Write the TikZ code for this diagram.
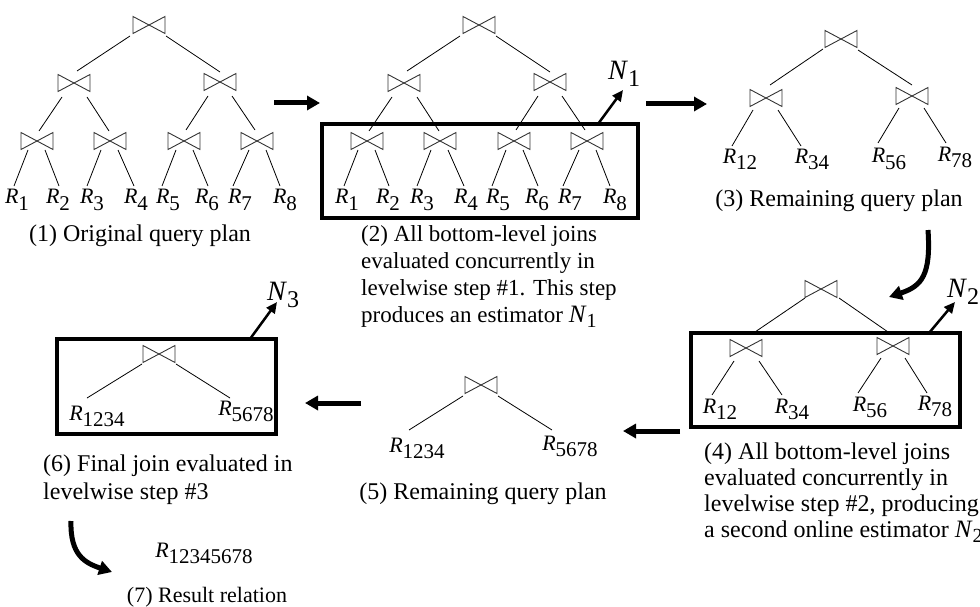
\documentclass[tikz,border=0pt]{standalone}
\usepackage{fontspec}
\setmainfont{Liberation Serif}
\usetikzlibrary{arrows.meta,calc}

% relation and estimator labels: italic letter, lowered index
\newcommand\Rel[1]{\textit{R}\raisebox{-6pt}{\fontsize{21}{21}\selectfont #1}}
\newcommand\Est[1]{\textit{N}\raisebox{-7pt}{\fontsize{24}{24}\selectfont #1}}
\newcommand\EstTxt[1]{{\fontsize{25}{25}\selectfont\textit{N}}\raisebox{-5pt}{\fontsize{20}{20}\selectfont #1}}

% full eight-relation join tree (used twice)
\newcommand\fulltree{%
  \node[jn] (t)  at (149,25)  {};
  \node[jn] (l)  at (74,83)   {};
  \node[jn] (r)  at (220,82)  {};
  \node[jn] (b1) at (37,141)  {};
  \node[jn] (b2) at (110,141) {};
  \node[jn] (b3) at (184,141) {};
  \node[jn] (b4) at (257,141) {};
  \foreach \j in {t,l,r,b1,b2,b3,b4}
    \draw[jnline] (\j.north west) -- (\j.south east) -- (\j.north east) -- (\j.south west) -- cycle;
  \node[leaf] (x1) at (17,204)  {\Rel{1}};
  \node[leaf] (x2) at (58,204)  {\Rel{2}};
  \node[leaf] (x3) at (92,204)  {\Rel{3}};
  \node[leaf] (x4) at (136,204) {\Rel{4}};
  \node[leaf] (x5) at (168,204) {\Rel{5}};
  \node[leaf] (x6) at (207,204) {\Rel{6}};
  \node[leaf] (x7) at (240,204) {\Rel{7}};
  \node[leaf] (x8) at (285,204) {\Rel{8}};
  \draw[edge] ($(t)+(-19,11)$) -- ($(l)+(3,-12)$);
  \draw[edge] ($(t)+(17,11)$)  -- ($(r)+(0,-10)$);
  \draw[edge] ($(l)+(-12,14)$) -- ($(b1)+(2,-10)$);
  \draw[edge] ($(l)+(13,14)$)  -- ($(b2)+(-1,-10)$);
  \draw[edge] ($(r)+(-12,14)$) -- ($(b3)+(2,-11)$);
  \draw[edge] ($(r)+(12,14)$)  -- ($(b4)+(-2,-11)$);
  \foreach \p/\c/\s/\e in {b1/x1/-9/-3, b1/x2/8/1, b2/x3/-9/-5, b2/x4/8/-2,
                           b3/x5/-8/-6, b3/x6/9/1, b4/x7/-8/-7, b4/x8/9/-5}
    \draw[edge] ($(\p)+(\s,9)$) -- ($(\c.base)+(\e,-18)$);
}

\begin{document}
\begin{tikzpicture}[x=1pt,y=-1pt,
  jn/.style={minimum width=32pt,minimum height=17pt,inner sep=0pt,outer sep=0pt},
  jnline/.style={draw=black!80,line width=0.9pt},
  edge/.style={line width=0.8pt},
  leaf/.style={anchor=base,inner sep=0pt,font=\fontsize{22}{24}\selectfont},
  est/.style={anchor=base west,inner sep=0pt,font=\fontsize{28}{30}\selectfont},
  captext/.style={anchor=base,inner sep=0pt,font=\fontsize{24}{26}\selectfont},
  captl/.style={anchor=base west,inner sep=0pt,font=\fontsize{24}{26}\selectfont},
  captm/.style={anchor=base west,inner sep=0pt,font=\fontsize{23}{26}\selectfont},
  stepbox/.style={draw,line width=3.8pt,inner sep=0pt,outer sep=0pt},
  flow/.style={line width=5pt,-{Triangle[length=13pt,width=14pt]}},
  estarrow/.style={line width=2.5pt,-{Triangle[length=11pt,width=10pt]}},
]
\useasboundingbox (0,0) rectangle (980,607);
\clip (0,0) rectangle (980,607);

% (1) original plan
\begin{scope}[name prefix=a-]
  \fulltree
\end{scope}
\node[captext] (c1) at (140,241) {(1) Original query plan};

% (2) bottom level evaluated
\begin{scope}[xshift=330pt,name prefix=b-]
  \fulltree
\end{scope}
\node[stepbox,minimum width=316pt,minimum height=94pt] (box2) at (480,171) {};
\node[est] (n1) at (608,80) {\Est{1}};
\draw[estarrow] ($(box2.north east)+(-40,0)$) -- ($(n1.base west)+(15,10)$);
\node[captm] (c2a) at (361,241)   {(2) All bottom-level joins};
\node[captm] (c2b) at (361,268.3) {evaluated concurrently in};
\node[captm] (c2c) at (361,295.6) {levelwise step \#1. This step};
\node[captm] (c2d) at (361,322.9) {produces an estimator \EstTxt{1}};

% (3) remaining plan
\node[jn] (t3) at (841,39) {};
\node[jn] (l3) at (766,98) {};
\node[jn] (r3) at (912,96) {};
\foreach \j in {t3,l3,r3}
  \draw[jnline] (\j.north west) -- (\j.south east) -- (\j.north east) -- (\j.south west) -- cycle;
\node[leaf] (y1) at (740,164) {\Rel{12}};
\node[leaf] (y2) at (812,164) {\Rel{34}};
\node[leaf] (y3) at (889,163) {\Rel{56}};
\node[leaf] (y4) at (955,161) {\Rel{78}};
\draw[edge] ($(t3)+(-18,10)$) -- ($(l3)+(4,-13)$);
\draw[edge] ($(t3)+(17,11)$)  -- ($(r3)+(0,-11)$);
\draw[edge] ($(l3)+(-13,12)$) -- ($(y1.base)+(-8,-18)$);
\draw[edge] ($(l3)+(12,12)$)  -- ($(y2.base)+(-11,-18)$);
\draw[edge] ($(r3)+(-13,12)$) -- ($(y3.base)+(-11,-20)$);
\draw[edge] ($(r3)+(12,12)$)  -- ($(y4.base)+(-9,-18)$);
\node[captext] (c3) at (839,206) {(3) Remaining query plan};

% (4) second level evaluated
\node[jn] (t4) at (821,289) {};
\node[jn] (l4) at (746,348) {};
\node[jn] (r4) at (893,346) {};
\foreach \j in {t4,l4,r4}
  \draw[jnline] (\j.north west) -- (\j.south east) -- (\j.north east) -- (\j.south west) -- cycle;
\node[leaf] (z1) at (720,413) {\Rel{12}};
\node[leaf] (z2) at (792,413) {\Rel{34}};
\node[leaf] (z3) at (870,411) {\Rel{56}};
\node[leaf] (z4) at (935,410) {\Rel{78}};
\draw[edge] ($(t4)+(-16,9)$)  -- ($(l4)+(9,-16)$);
\draw[edge] ($(t4)+(18,9)$)   -- ($(r4)+(-5,-14)$);
\draw[edge] ($(l4)+(-12,13)$) -- ($(z1.base)+(-8,-18)$);
\draw[edge] ($(l4)+(13,13)$)  -- ($(z2.base)+(-10,-18)$);
\draw[edge] ($(r4)+(-12,12)$) -- ($(z3.base)+(-12,-18)$);
\draw[edge] ($(r4)+(12,12)$)  -- ($(z4.base)+(-8,-17)$);
\node[stepbox,minimum width=269pt,minimum height=94pt] (box4) at (825.5,380) {};
\node[est] (n2) at (947,297) {\Est{2}};
\draw[estarrow] ($(box4.north east)+(-31,0)$) -- ($(n2.base west)+(8,5)$);
\node[captl] (c4a) at (704,459) {(4) All bottom-level joins};
\node[captl] (c4b) at (704,485) {evaluated concurrently in};
\node[captl] (c4c) at (704,511) {levelwise step \#2, producing};
\node[captl] (c4d) at (704,537) {a second online estimator \EstTxt{2}};

% (5) remaining plan
\node[jn] (j5) at (481,385) {};
\draw[jnline] (j5.north west) -- (j5.south east) -- (j5.north east) -- (j5.south west) -- cycle;
\node[leaf] (u1) at (417,452) {\Rel{1234}};
\node[leaf] (u2) at (570,450) {\Rel{5678}};
\draw[edge] ($(j5)+(-18,11)$) -- ($(u1.base)+(-8,-22)$);
\draw[edge] ($(j5)+(17,11)$)  -- ($(u2.base)+(-18,-20)$);
\node[captext] (c5) at (483,499) {(5) Remaining query plan};

% (6) final join
\node[jn] (j6) at (159,354) {};
\draw[jnline] (j6.north west) -- (j6.south east) -- (j6.north east) -- (j6.south west) -- cycle;
\node[leaf] (v1) at (97,420)  {\Rel{1234}};
\node[leaf] (v2) at (246,415) {\Rel{5678}};
\draw[edge] ($(j6)+(-17,10)$) -- ($(v1.base)+(-10,-22)$);
\draw[edge] ($(j6)+(17,10)$)  -- ($(v2.base)+(-16,-17)$);
\node[stepbox,minimum width=219pt,minimum height=95pt] (box6) at (166.5,386.5) {};
\node[est] (n3) at (267,300) {\Est{3}};
\draw[estarrow] ($(box6.north east)+(-26,0)$) -- ($(n3.base west)+(10,2)$);
\node[captl] (c6a) at (43,471) {(6) Final join evaluated in};
\node[captl] (c6b) at (43,499) {levelwise step \#3};

% (7) result
\node[leaf] (w) at (204,557) {\Rel{12345678}};
\node[captext,font=\fontsize{22}{24}\selectfont] (c7) at (207,602) {(7) Result relation};

% flow between the stages
\coordinate (f1s) at (274,103); \coordinate (f1e) at (320,103);
\coordinate (f2s) at (646,104); \coordinate (f2e) at (707,104);
\coordinate (f3s) at (928,230); \coordinate (f3e) at (889,297);
\coordinate (f4s) at (680,431); \coordinate (f4e) at (623,431);
\coordinate (f5s) at (361,403); \coordinate (f5e) at (305,403);
\coordinate (f6s) at (71,521);  \coordinate (f6e) at (112,572);
\draw[flow] (f1s) -- (f1e);
\draw[flow] (f2s) -- (f2e);
\draw[flow] (f3s) .. controls (931,275) and (922,286) .. (f3e);
\draw[flow] (f4s) -- (f4e);
\draw[flow] (f5s) -- (f5e);
\draw[flow] (f6s) .. controls (70,555) and (85,563) .. (f6e);
\end{tikzpicture}
\end{document}
